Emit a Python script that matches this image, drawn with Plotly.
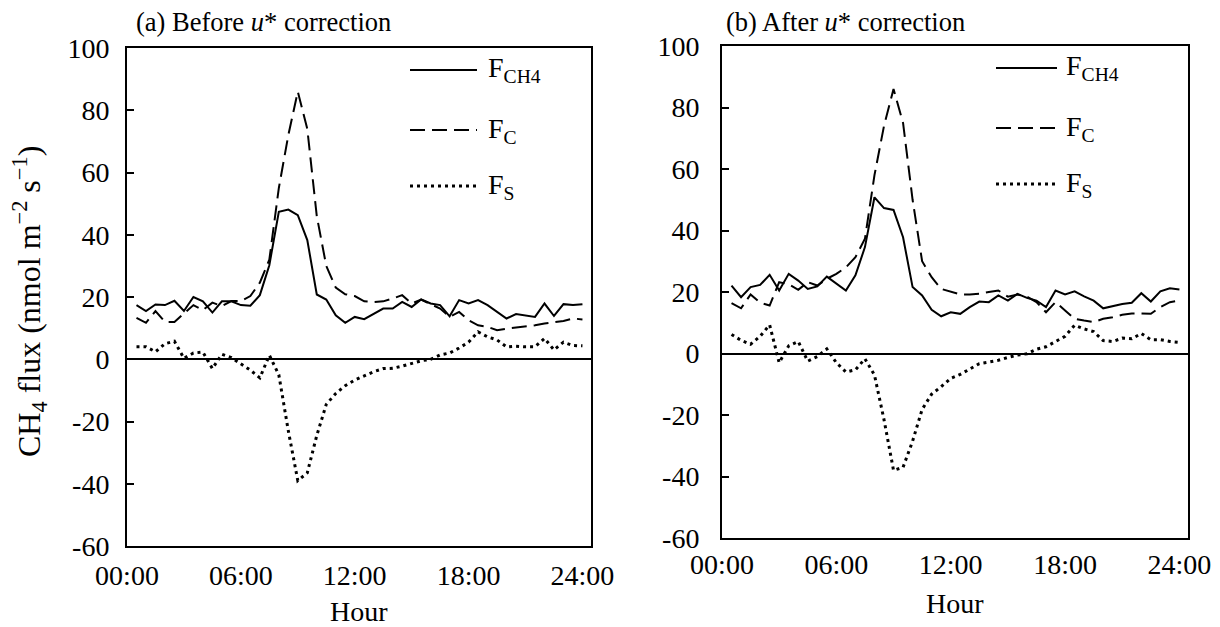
import plotly.graph_objects as go

hours = [0.5 * i for i in range(1, 49)]
tick_vals = [0, 6, 12, 18, 24]
tick_text = ["00:00", "06:00", "12:00", "18:00", "24:00"]
y_ticks = [100, 80, 60, 40, 20, 0, -20, -40, -60]
y_ticktext = ["100", "80", "60", "40", "20", "0", "-20", "-40", "-60"]

fch4_a = [17.4, 15.5, 17.6, 17.4, 18.8, 15.5, 20.0, 18.6, 15.0, 18.6, 18.6, 17.4,
          17.2, 20.6, 30.2, 47.4, 48.1, 46.3, 38.3, 20.8, 19.2, 14.1, 11.7, 13.6,
          12.9, 14.7, 16.3, 16.3, 18.4, 16.8, 19.2, 17.9, 17.4, 13.8, 19.0, 17.9,
          19.0, 17.4, 15.2, 13.1, 14.5, 14.1, 13.6, 17.9, 13.9, 17.7, 17.4, 17.7]
fc_a = [13.3, 11.7, 15.5, 12.0, 12.0, 14.7, 17.4, 15.8, 18.2, 17.1, 18.7, 18.7,
        20.3, 24.6, 32.0, 55.0, 72.0, 86.0, 74.0, 46.0, 30.0, 23.0, 20.9, 20.3,
        18.6, 18.4, 18.6, 19.5, 20.6, 17.9, 19.2, 17.7, 16.3, 13.6, 15.2, 12.5,
        10.9, 10.4, 9.3, 9.8, 10.1, 10.4, 10.9, 11.5, 11.8, 12.3, 13.1, 12.8]
fs_a = [4.0, 4.0, 2.4, 5.0, 5.8, 0.3, 2.0, 2.3, -3.0, 1.6, 0.5, -1.5,
        -3.5, -6.0, 1.3, -5.0, -23.0, -39.0, -36.5, -24.5, -14.5, -11.0, -8.5, -6.7,
        -5.4, -4.0, -3.0, -2.9, -2.2, -1.3, -0.5, 0.0, 1.4, 2.0, 3.6, 5.5,
        8.8, 7.2, 6.2, 4.0, 4.2, 4.0, 4.0, 6.7, 3.0, 5.5, 4.4, 4.3]

fch4_b = [22.1, 18.3, 21.6, 22.3, 25.6, 20.5, 25.9, 23.7, 21.0, 21.8, 25.0, 22.7,
          20.5, 25.4, 34.6, 50.8, 47.3, 46.7, 37.8, 21.6, 18.9, 14.2, 12.1, 13.4,
          12.9, 15.1, 16.9, 16.7, 18.9, 17.2, 19.4, 18.1, 17.2, 15.1, 20.5, 19.2,
          20.2, 18.6, 17.2, 14.7, 15.4, 16.1, 16.5, 19.6, 16.9, 20.2, 21.2, 20.8]
fc_b = [16.4, 14.7, 19.2, 16.5, 15.6, 23.2, 22.5, 20.7, 23.2, 22.1, 24.3, 25.9,
        28.0, 31.3, 37.3, 58.0, 74.0, 86.0, 75.0, 50.0, 30.0, 24.8, 21.0, 20.0,
        19.2, 19.2, 19.4, 20.0, 20.5, 18.5, 19.2, 18.5, 16.7, 13.4, 16.7, 14.0,
        11.3, 10.7, 10.2, 11.3, 11.8, 12.6, 13.0, 13.0, 12.9, 15.1, 16.7, 17.2]
fs_b = [6.2, 4.3, 3.0, 5.6, 9.3, -3.0, 2.5, 3.9, -2.5, -1.0, 1.5, -3.0,
        -6.0, -5.3, -1.7, -7.0, -21.5, -38.0, -37.0, -28.5, -18.2, -13.2, -10.8, -8.1,
        -6.8, -5.0, -3.3, -2.8, -2.2, -1.3, -0.5, -0.1, 1.4, 2.2, 3.8, 5.6,
        9.2, 8.0, 7.1, 4.2, 3.9, 5.0, 4.8, 6.5, 4.5, 4.5, 3.9, 3.6]

series_names = ["F<sub>CH4</sub>", "F<sub>C</sub>", "F<sub>S</sub>"]
panel_titles = ["(a) Before <i>u</i>* correction", "(b) After <i>u</i>* correction"]

FONT = "Liberation Serif, Times New Roman, serif"
W, H = 1220, 627
FS = 28

styles = [dict(color="black", width=2, dash="solid"),
          dict(color="black", width=2, dash="15px,7px"),
          dict(color="black", width=3, dash="3px,4px")]

fig = go.Figure()
panels = [("x", "y", [fch4_a, fc_a, fs_a]), ("x2", "y2", [fch4_b, fc_b, fs_b])]
for xa, ya, data in panels:
    for vals, st in zip(data, styles):
        fig.add_trace(go.Scatter(x=hours, y=vals, mode="lines", line=st,
                                 xaxis=xa, yaxis=ya, showlegend=False, hoverinfo="skip"))

# pixel geometry of plot boxes
box_a = dict(l=127, r=591, t=48, b=546)
box_b = dict(l=722, r=1188, t=46, b=538)

def xdom(b):
    return [b["l"] / W, b["r"] / W]

def ydom(b):
    return [1 - b["b"] / H, 1 - b["t"] / H]

axis_common = dict(showline=True, mirror=True, linecolor="black", linewidth=2,
                   showgrid=False, automargin=False,
                   tickfont=dict(family=FONT, size=FS, color="black"))
xcommon = dict(axis_common, range=[0, 24.45], tickvals=tick_vals, ticktext=tick_text,
               ticks="", zeroline=False)
ycommon = dict(axis_common, range=[-60, 100], tickvals=y_ticks, ticktext=y_ticktext,
               ticks="inside", ticklen=7, tickwidth=2, tickcolor="black",
               zeroline=True, zerolinecolor="black", zerolinewidth=1.5)

fig.update_layout(
    template="none",
    width=W, height=H, margin=dict(l=0, r=0, t=0, b=0, autoexpand=False),
    paper_bgcolor="white", plot_bgcolor="white", showlegend=False,
    font=dict(family=FONT, size=FS, color="black"),
    xaxis=dict(xcommon, domain=xdom(box_a), anchor="y", ticklabelstandoff=3),
    yaxis=dict(ycommon, domain=ydom(box_a), anchor="x", ticklabelstandoff=10),
    xaxis2=dict(xcommon, domain=xdom(box_b), anchor="y2", ticklabelstandoff=0),
    yaxis2=dict(ycommon, domain=ydom(box_b), anchor="x2", ticklabelstandoff=15),
)

ann = []
shapes = []
# panel titles
ann.append(dict(x=134 / W, y=1 - 22 / H, xref="paper", yref="paper", text=panel_titles[0],
                showarrow=False, xanchor="left", yanchor="middle",
                font=dict(family=FONT, size=26.5, color="black")))
ann.append(dict(x=724 / W, y=1 - 22 / H, xref="paper", yref="paper", text=panel_titles[1],
                showarrow=False, xanchor="left", yanchor="middle",
                font=dict(family=FONT, size=26.5, color="black")))
# x axis titles
ann.append(dict(x=(box_a["l"] + box_a["r"]) / 2 / W, y=1 - 611 / H, xref="paper", yref="paper",
                text="Hour", showarrow=False, xanchor="center", yanchor="middle",
                font=dict(family=FONT, size=FS, color="black")))
ann.append(dict(x=(box_b["l"] + box_b["r"]) / 2 / W, y=1 - 603 / H, xref="paper", yref="paper",
                text="Hour", showarrow=False, xanchor="center", yanchor="middle",
                font=dict(family=FONT, size=FS, color="black")))
# y axis title
ann.append(dict(x=30 / W, y=1 - 302 / H, xref="paper", yref="paper",
                text="CH<sub>4</sub> flux (nmol m<sup>\u22122</sup> s<sup>\u22121</sup>)",
                showarrow=False, textangle=-90, xanchor="center", yanchor="middle",
                font=dict(family=FONT, size=32, color="black")))

# legends (drawn manually)
leg_a = dict(x0=410, x1=477, tx=486, ys=[70, 130, 186])
leg_b = dict(x0=996, x1=1057, tx=1064, ys=[68, 128, 184])
for leg in (leg_a, leg_b):
    for name, st, yy in zip(series_names, styles, leg["ys"]):
        shapes.append(dict(type="line", xref="paper", yref="paper",
                           x0=leg["x0"] / W, x1=leg["x1"] / W, y0=1 - yy / H, y1=1 - yy / H,
                           line=st))
        ann.append(dict(x=leg["tx"] / W, y=1 - yy / H, xref="paper", yref="paper", text=name,
                        showarrow=False, xanchor="left", yanchor="middle",
                        font=dict(family=FONT, size=FS, color="black")))

fig.update_layout(annotations=ann, shapes=shapes)
fig.write_html("out.html")
